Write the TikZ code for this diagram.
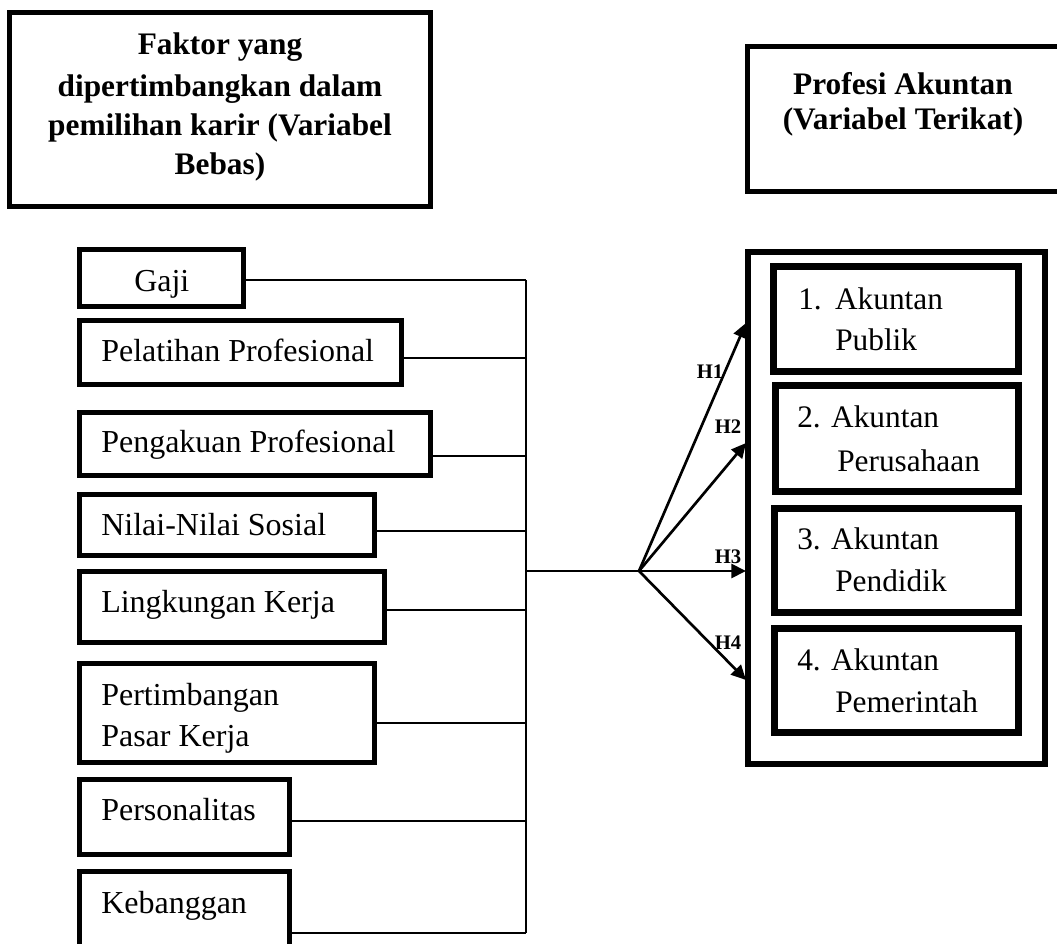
\documentclass[tikz,border=0pt]{standalone}
\usepackage{fontspec}
\setmainfont{Liberation Serif}
\usetikzlibrary{fit,arrows.meta}
\begin{document}
\begin{tikzpicture}[x=0.75pt,y=-0.75pt,
  hbox/.style={draw, line width=3.75pt, inner sep=0pt, rectangle},
  ibox/.style={draw, line width=4.9pt, inner sep=0pt, rectangle},
  ht/.style={anchor=base, font=\bfseries\fontsize{23.5}{28}\selectfont, inner sep=0pt},
  lt/.style={anchor=base west, font=\fontsize{24}{29}\selectfont, inner sep=0pt},
  rt/.style={anchor=base west, font=\fontsize{23.5}{28}\selectfont, inner sep=0pt},
  hl/.style={anchor=center, font=\bfseries\fontsize{15.5}{18}\selectfont, inner sep=0pt},
  conn/.style={line width=1.4pt},
  arr/.style={line width=2pt, -{Triangle[length=11pt,width=10.5pt]}}
]
\useasboundingbox (0,0) rectangle (1057,944);

% headers
\node[hbox, fit={(9.5,12.5) (430.5,206.5)}] (hL) {};
\node[ht] (hL1) at (220,55) {Faktor yang};
\node[ht] (hL2) at (220,97) {dipertimbangkan dalam};
\node[ht] (hL3) at (220,136) {pemilihan karir (Variabel};
\node[ht] (hL4) at (220,175) {Bebas)};
\node[hbox, fit={(747.5,46.5) (1080,191.5)}] (hR) {};
\node[ht] (hR1) at (903,95) {Profesi Akuntan};
\node[ht] (hR2) at (903,130) {(Variabel Terikat)};

% left boxes
\node[hbox, fit={(79.5,249.5) (243.5,306.5)}] (gaji) {};
\node[lt] (tgaji) at (134,292) {Gaji};
\node[hbox, fit={(79.5,320.5) (401.5,384.5)}] (pel) {};
\node[lt] (tpel) at (101,362) {Pelatihan Profesional};
\node[hbox, fit={(79.5,412.5) (430.5,475.5)}] (pen) {};
\node[lt] (tpen) at (101,453) {Pengakuan Profesional};
\node[hbox, fit={(79.5,494.5) (374.5,555.5)}] (nil) {};
\node[lt] (tnil) at (101,536) {Nilai-Nilai Sosial};
\node[hbox, fit={(79.5,571.5) (384.5,642.5)}] (lin) {};
\node[lt] (tlin) at (101,613) {Lingkungan Kerja};
\node[hbox, fit={(79.5,663.5) (374.5,762.5)}] (per) {};
\node[lt] (tper1) at (101,705) {Pertimbangan};
\node[lt] (tper2) at (101,746) {Pasar Kerja};
\node[hbox, fit={(79.5,779.5) (289.5,854.5)}] (pso) {};
\node[lt] (tpso) at (101,820) {Personalitas};
\node[hbox, fit={(79.5,871.5) (289.5,965)}] (keb) {};
\node[lt] (tkeb) at (101,913) {Kebanggan};

% bus
\coordinate (b1) at (526,280);
\coordinate (b2) at (526,358);
\coordinate (b3) at (526,456);
\coordinate (b4) at (526,531);
\coordinate (b5) at (526,610);
\coordinate (b6) at (526,723);
\coordinate (b7) at (526,821);
\coordinate (b8) at (526,933);
\coordinate (bm) at (526,571);
\coordinate (fan) at (639,571);
\draw[conn] (gaji.east |- b1) -- (b1);
\draw[conn] (pel.east |- b2) -- (b2);
\draw[conn] (pen.east |- b3) -- (b3);
\draw[conn] (nil.east |- b4) -- (b4);
\draw[conn] (lin.east |- b5) -- (b5);
\draw[conn] (per.east |- b6) -- (b6);
\draw[conn] (pso.east |- b7) -- (b7);
\draw[conn] (keb.east |- b8) -- (b8);
\draw[conn] (b1) -- (b8);
\draw[conn] (bm) -- (fan);

% right container
\node[hbox, line width=4.3pt, fit={(748,252) (1045,764)}] (cont) {};
\node[ibox, fit={(773.5,266.5) (1018.5,371.5)}] (a1) {};
\node[rt] (ta1a) at (798,310) {1.\hspace{10pt}Akuntan};
\node[rt] (ta1b) at (835,351) {Publik};
\node[ibox, fit={(775.5,385.5) (1018.5,491.5)}] (a2) {};
\node[rt] (ta2a) at (797,428) {2. Akuntan};
\node[rt] (ta2b) at (837,472) {Perusahaan};
\node[ibox, fit={(774.5,508.5) (1018.5,612.5)}] (a3) {};
\node[rt] (ta3a) at (797,550) {3. Akuntan};
\node[rt] (ta3b) at (835,592) {Pendidik};
\node[ibox, fit={(774.5,628.5) (1018.5,732.5)}] (a4) {};
\node[rt] (ta4a) at (797,670) {4. Akuntan};
\node[rt] (ta4b) at (835,712) {Pemerintah};

% arrows
\coordinate (t1) at (746,323);
\coordinate (t2) at (746,443);
\coordinate (t3) at (746,571);
\coordinate (t4) at (746,680);
\draw[arr] (fan) -- (t1);
\draw[arr] (fan) -- (t2);
\draw[arr] (fan) -- (t3);
\draw[arr] (fan) -- (t4);
\node[hl] (h1) at (710,372) {H1};
\node[hl] (h2) at (728,427) {H2};
\node[hl] (h3) at (728,557) {H3};
\node[hl] (h4) at (728,643) {H4};
\end{tikzpicture}
\end{document}
